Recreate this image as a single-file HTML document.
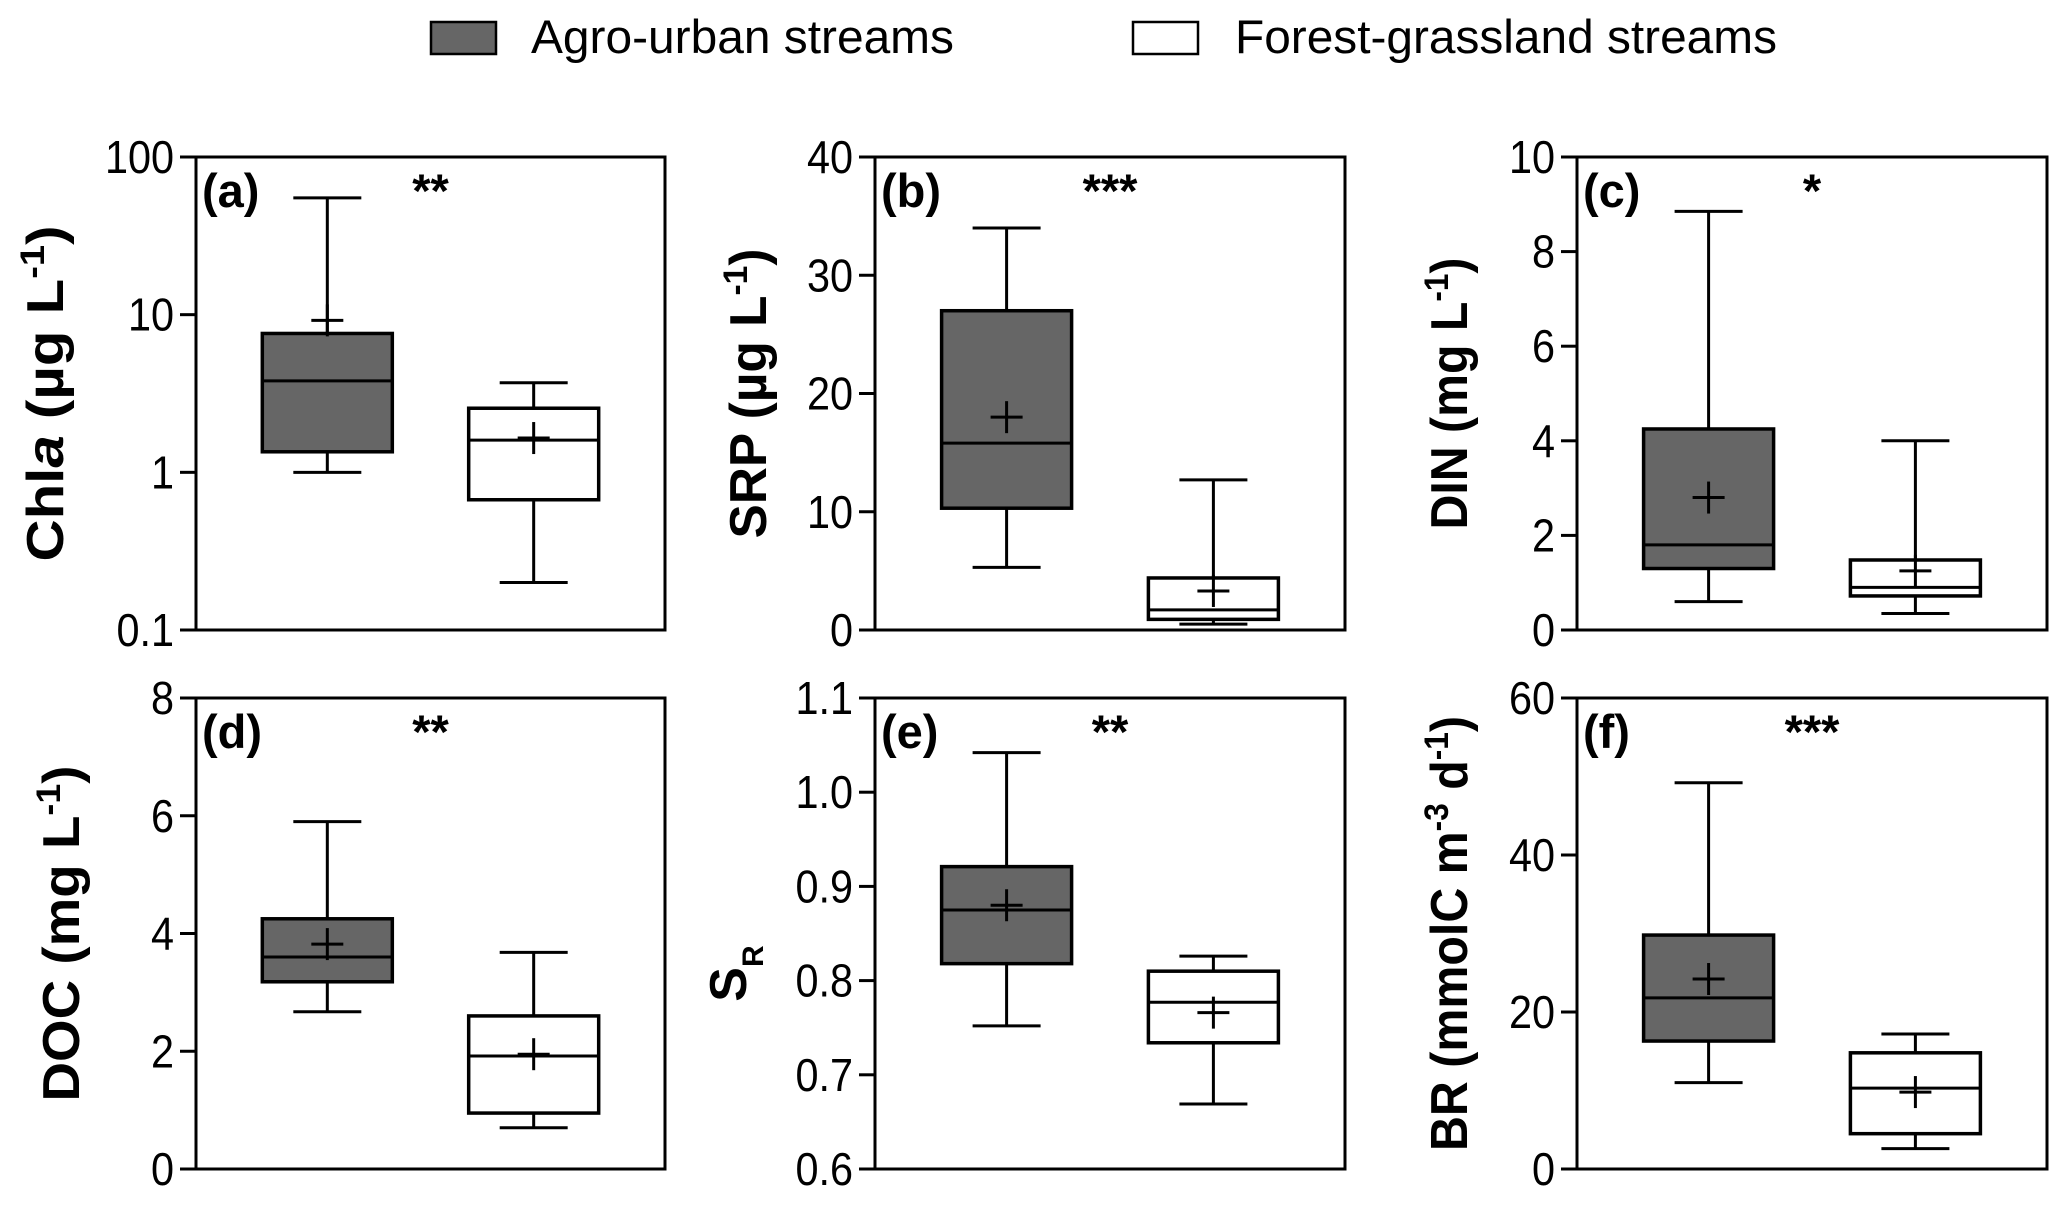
<!DOCTYPE html>
<html><head><meta charset="utf-8">
<style>
html,body{margin:0;padding:0;background:#fff;}
svg{display:block;}
.tick{font-family:"Liberation Sans",sans-serif;font-size:46px;fill:#000;}
.ttl{font-family:"Liberation Sans",sans-serif;font-weight:bold;font-size:52px;fill:#000;}
.lbl{font-family:"Liberation Sans",sans-serif;font-weight:bold;font-size:47px;fill:#000;}
.leg{font-family:"Liberation Sans",sans-serif;font-size:47px;fill:#000;}
</style></head>
<body>
<svg id="fig" width="2067" height="1205" viewBox="0 0 2067 1205" xmlns="http://www.w3.org/2000/svg">
  <g>
    <rect x="431" y="22" width="65" height="32" fill="#666" stroke="#000" stroke-width="2.5"/>
    <text class="leg" x="531" y="53" textLength="423" lengthAdjust="spacingAndGlyphs">Agro-urban streams</text>
    <rect x="1133" y="22" width="65" height="32" fill="#fff" stroke="#000" stroke-width="2.5"/>
    <text class="leg" x="1235" y="53" textLength="542" lengthAdjust="spacingAndGlyphs">Forest-grassland streams</text>
  </g>
</svg>
<script>
// Panel metadata
const panelIds = ['a','b','c','d','e','f'];
const panelStars = ['**','***','*','**','**','***'];
const tickA = [0.1, 1, 10, 100];
const tickLabelsA = ['0.1','1','10','100'];
const tickB = [0,10,20,30,40];
const tickC = [0,2,4,6,8,10];
const tickD = [0,2,4,6,8];
const tickE = [0.6,0.7,0.8,0.9,1.0,1.1];
const tickLabelsE = ['0.6','0.7','0.8','0.9','1.0','1.1'];
const tickF = [0,20,40,60];
// Box stats: [whiskerLow, q1, median, q3, whiskerHigh, mean]
const agroA = [1.0, 1.35, 3.8, 7.6, 55, 9.2];
const forestA = [0.2, 0.67, 1.6, 2.55, 3.7, 1.65];
const agroB = [5.3, 10.3, 15.8, 27, 34, 18];
const forestB = [0.5, 0.9, 1.7, 4.4, 12.7, 3.3];
const agroC = [0.6, 1.3, 1.8, 4.25, 8.85, 2.8];
const forestC = [0.35, 0.72, 0.9, 1.48, 4.0, 1.25];
const agroD = [2.67, 3.18, 3.6, 4.25, 5.9, 3.82];
const forestD = [0.7, 0.95, 1.92, 2.6, 3.68, 1.95];
const agroE = [0.752, 0.818, 0.875, 0.921, 1.042, 0.88];
const forestE = [0.669, 0.734, 0.777, 0.81, 0.826, 0.766];
const agroF = [11, 16.3, 21.8, 29.8, 49.2, 24.2];
const forestF = [2.6, 4.5, 10.3, 14.8, 17.2, 9.8];

const NS = 'http://www.w3.org/2000/svg';
const svg = document.getElementById('fig');
function mk(tag, attrs, parent){
  const e = document.createElementNS(NS, tag);
  for (const k in attrs) e.setAttribute(k, attrs[k]);
  (parent||svg).appendChild(e);
  return e;
}
const cols = [[196,665],[875,1345],[1577,2047]];
const rows = [[157,630],[698,1169]];
const titleX = [46, 749, 1450];
const titleLen = {a:336, b:290, c:272, d:336, f:435};
const panels = [
  {ticks:tickA, labels:tickLabelsA, log:true, agro:agroA, forest:forestA, title:'a'},
  {ticks:tickB, labels:tickB.map(String), agro:agroB, forest:forestB, title:'b'},
  {ticks:tickC, labels:tickC.map(String), agro:agroC, forest:forestC, title:'c'},
  {ticks:tickD, labels:tickD.map(String), agro:agroD, forest:forestD, title:'d'},
  {ticks:tickE, labels:tickLabelsE, agro:agroE, forest:forestE, title:'e'},
  {ticks:tickF, labels:tickF.map(String), agro:agroF, forest:forestF, title:'f'}
];
function titleMarkup(k){
  const sup = '<tspan baseline-shift="super" font-size="34">-1</tspan>';
  switch(k){
    case 'a': return 'Chl<tspan font-style="italic">a</tspan> (µg L'+sup+'<tspan>)</tspan>';
    case 'b': return 'SRP (µg L'+sup+'<tspan>)</tspan>';
    case 'c': return 'DIN (mg L'+sup+'<tspan>)</tspan>';
    case 'd': return 'DOC (mg L'+sup+'<tspan>)</tspan>';
    case 'e': return 'S<tspan baseline-shift="sub" font-size="30">R</tspan>';
    case 'f': return 'BR (mmolC m<tspan baseline-shift="super" font-size="34">-3</tspan><tspan> d</tspan>'+sup+'<tspan>)</tspan>';
  }
}
panels.forEach((p, i) => {
  const [x0,x1] = cols[i%3];
  const [y0,y1] = rows[Math.floor(i/3)];
  const lo = p.ticks[0], hi = p.ticks[p.ticks.length-1];
  const y = v => p.log
    ? y1 - (Math.log10(v)-Math.log10(lo))/(Math.log10(hi)-Math.log10(lo))*(y1-y0)
    : y1 - (v-lo)/(hi-lo)*(y1-y0);
  const g = mk('g', {});
  
  
  const frame = mk('rect', {x:x0, y:y0, width:x1-x0, height:y1-y0, fill:'none', stroke:'#000', 'stroke-width':3}, g);
  
  
  p.ticks.forEach((t, j) => {
    const ty = y(t);
    const tl = mk('line', {x1:x0-16, x2:x0, y1:ty, y2:ty, stroke:'#000', 'stroke-width':3}, g);
    
    
    const lx = x0-22;
    const tx = mk('text', {x:0, y:0, 'text-anchor':'end', class:'tick', transform:'translate('+lx+' '+(ty+16)+') scale(0.9 1)'}, g);
    
    
    tx.textContent = p.labels[j];
  });
  const cy = (y0+y1)/2 + (i===4 ? 40 : 0);
  const tx = titleX[i%3] + (i===3 ? 16 : 0) + (i===4 ? -20 : 0);
  const attrs = {x:tx, y:cy, 'text-anchor':'middle', class:'ttl', transform:'rotate(-90 '+tx+' '+cy+')', dy:'17'};
  if (titleLen[p.title]) { attrs.textLength = titleLen[p.title]; attrs.lengthAdjust = 'spacingAndGlyphs'; }
  else { attrs['font-size'] = '44'; }
  const ti = mk('text', attrs, g);
  
  
  ti.innerHTML = titleMarkup(p.title);
  const pl = mk('text', {x:x0+6, y:y0+50, class:'lbl'}, g);
  
  
  pl.textContent = '(' + panelIds[i] + ')';
  const st = mk('text', {x:x0+(x1-x0)*0.5, y:y0+50, 'text-anchor':'middle', class:'lbl', 'font-size':'40'}, g);
  
  
  st.textContent = panelStars[i];
  [[p.agro, 0.28, '#666', 'agro-urban'], [p.forest, 0.72, '#fff', 'forest-grassland']].forEach(([s, f, fill, nm]) => {
    const cx = x0 + (x1-x0)*f;
    const bg = mk('g', {}, g);
    
    
    const ln = {stroke:'#000', 'stroke-width':3};
    mk('line', Object.assign({x1:cx, x2:cx, y1:y(s[0]), y2:y(s[4])}, ln), bg);
    mk('line', Object.assign({x1:cx-34, x2:cx+34, y1:y(s[0]), y2:y(s[0])}, ln), bg);
    mk('line', Object.assign({x1:cx-34, x2:cx+34, y1:y(s[4]), y2:y(s[4])}, ln), bg);
    mk('rect', {x:cx-65, y:y(s[3]), width:130, height:y(s[1])-y(s[3]), fill:fill, stroke:'#000', 'stroke-width':3.5}, bg);
    mk('line', Object.assign({x1:cx-65, x2:cx+65, y1:y(s[2]), y2:y(s[2])}, ln), bg);
    mk('line', Object.assign({x1:cx-16, x2:cx+16, y1:y(s[5]), y2:y(s[5])}, ln), bg);
    mk('line', Object.assign({x1:cx, x2:cx, y1:y(s[5])-16, y2:y(s[5])+16}, ln), bg);
  });
});
</script>
</body></html>
